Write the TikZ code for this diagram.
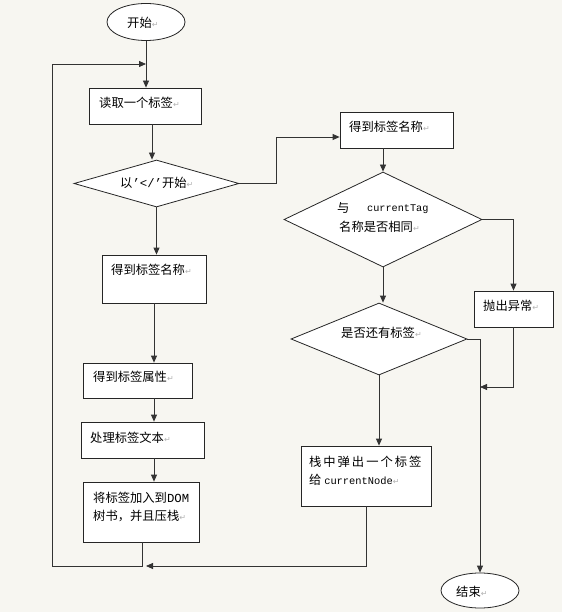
\documentclass[tikz,border=0pt]{standalone}
\usepackage{fontspec}
\setmainfont{Noto Sans CJK SC}
\newfontfamily\lmono{Liberation Mono}
\newfontfamily\dejavu{DejaVu Sans}
\newfontfamily\cjkwide[LetterSpace=16]{Noto Sans CJK SC}
\usetikzlibrary{shapes.geometric,arrows.meta}
\definecolor{bg}{HTML}{F7F6F1}
\newcommand\ret{{\color{gray!60}\fontsize{8}{8}\dejavu ↵}}
\begin{document}
\begin{tikzpicture}[x=1pt,y=-1pt,
  box/.style={draw=black!85, fill=white, line width=0.8pt, inner sep=0pt},
  dia/.style={diamond, draw=black!85, fill=white, line width=0.8pt, inner sep=0pt},
  term/.style={ellipse, draw=black!85, fill=white, line width=0.8pt, inner sep=0pt},
  tx/.style={anchor=west, inner sep=0pt, font=\fontsize{12.3}{15}\selectfont},
  ln/.style={draw=black!80, line width=0.8pt},
  arr/.style={ln, -{Triangle[length=7pt,width=6pt]}}]
\fill[bg] (0,0) rectangle (562,612);
\useasboundingbox (0,0) rectangle (562,612);

% left column
\node[term, minimum width=78pt, minimum height=37pt] (start) at (146,22) {};
\node[tx] (tstart) at (127,23) {开始\ret};
\node[box, minimum width=112pt, minimum height=36pt] (b1) at (145,106) {};
\node[tx] (tb1) at (99,103) {读取一个标签\ret};
\node[dia, minimum width=165pt, minimum height=47pt] (d1) at (156.5,183.5) {};
\node[tx] (td1) at (120,183) {以{\lmono ’</’}开始\ret};
\node[box, minimum width=104pt, minimum height=48pt] (b3) at (154,279) {};
\node[tx] (tb3) at (111,270) {得到标签名称\ret};
\node[box, minimum width=109pt, minimum height=35pt] (b4) at (137.5,380.5) {};
\node[tx] (tb4) at (93,377) {得到标签属性\ret};
\node[box, minimum width=123pt, minimum height=36pt] (b5) at (142.5,440) {};
\node[tx] (tb5) at (90,438) {处理标签文本\ret};
\node[box, minimum width=116pt, minimum height=60pt] (b6) at (141,512) {};
\node[tx] (tb6a) at (93,498) {将标签加入到{\lmono DOM}};
\node[tx] (tb6b) at (93,516) {树书，并且压栈\ret};

% right column
\node[box, minimum width=113pt, minimum height=36pt] (b2) at (396.5,130) {};
\node[tx] (tb2) at (349,127) {得到标签名称\ret};
\node[dia, minimum width=198pt, minimum height=95pt] (d2) at (383,219.5) {};
\node[tx] (td2a) at (337,208) {与};
\node[tx] (td2b) at (367,209) {\lmono\fontsize{10.2}{12}\selectfont currentTag};
\node[tx] (td2c) at (339,227) {名称是否相同\ret};
\node[box, minimum width=79pt, minimum height=36pt] (b7) at (513.5,309) {};
\node[tx] (tb7) at (483,306) {抛出异常\ret};
\node[dia, minimum width=176pt, minimum height=72pt] (d3) at (379,339) {};
\node[tx] (td3) at (341,333) {是否还有标签\ret};
\node[box, minimum width=130pt, minimum height=60pt] (b8) at (366,476) {};
\node[tx] (tb8a) at (309,462) {\cjkwide 栈中弹出一个标签};
\node[tx] (tb8b) at (309,480) {给 {\lmono\fontsize{10.4}{12}\selectfont currentNode}\ret};
\node[term, minimum width=78pt, minimum height=35pt] (end) at (480,590.5) {};
\node[tx] (tend) at (456,592) {结束\ret};

% helper coordinates
\coordinate (j1) at (146,64);
\coordinate (lt) at (52,64);
\coordinate (lb) at (52,566);
\coordinate (j2) at (142,566);
\coordinate (j2a) at (146,566);
\coordinate (c152) at (152,0);
\coordinate (r1) at (276,183.5);
\coordinate (r2) at (276,137);
\coordinate (m) at (480,387);

% connectors
\draw[arr] (start.south) -- (start.south |- b1.north);
\draw[arr] (b1.south -| c152) -- (d1.north -| c152);
\draw[arr] (d1.south) -- (d1.south |- b3.north);
\draw[arr] (b3.south) -- (b3.south |- b4.north);
\draw[arr] (b3.south |- b4.south) -- (b3.south |- b5.north);
\draw[arr] (b3.south |- b5.south) -- (b3.south |- b6.north);
\draw[ln] (b6.south -| j2) -- (j2) -- (lb) -- (lt);
\draw[arr] (lt) -- (j1);
\draw[arr] (b8.south) -- (b8.south |- j2) -- (j2a);
\draw[arr] (d1.east) -- (r1) -- (r2) -- (b2.west |- r2);
\draw[arr] (d2.north |- b2.south) -- (d2.north);
\draw[arr] (d2.east) -- (d2.east -| b7.north) -- (b7.north);
\draw[arr] (d2.south) -- (d2.south |- d3.north);
\draw[arr] (d3.south) -- (d3.south |- b8.north);
\draw[arr] (d3.east) -- (d3.east -| end.north) -- (end.north);
\draw[arr] (b7.south) -- (b7.south |- m) -- (m);
\end{tikzpicture}
\end{document}
